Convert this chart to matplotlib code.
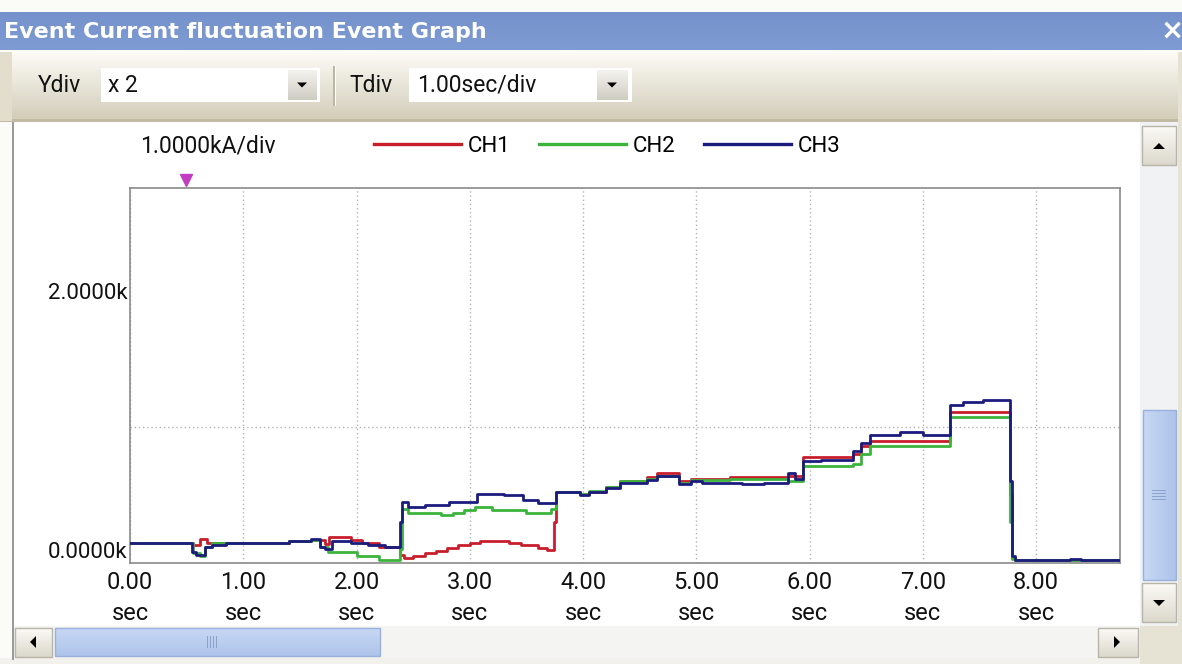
import matplotlib
matplotlib.use('Agg')  # no display
import matplotlib.pyplot as plt
import matplotlib.transforms as mtransforms
import numpy as np
from matplotlib.patches import Rectangle, Polygon
from matplotlib.lines import Line2D
from matplotlib.colors import LinearSegmentedColormap

# --- data: time in sec, current in kA (step samples) ---
t_ch1 = [0.00, 0.56, 0.62, 0.68, 1.40, 1.60, 1.72, 1.76, 1.95, 2.05, 2.20, 2.38, 2.42, 2.50, 2.60,
         2.70, 2.80, 2.90, 3.00, 3.09, 3.35, 3.45, 3.60, 3.68, 3.74, 3.76, 3.97, 4.05, 4.20, 4.33,
         4.56, 4.65, 4.85, 4.95, 5.30, 5.81, 5.94, 6.38, 6.45, 6.53, 7.24, 7.77, 7.79, 7.81, 8.74]
ch1 = [0.15, 0.13, 0.18, 0.15, 0.16, 0.17, 0.14, 0.19, 0.17, 0.15, 0.12, 0.06, 0.04, 0.05, 0.07,
       0.09, 0.11, 0.13, 0.15, 0.16, 0.15, 0.13, 0.11, 0.095, 0.30, 0.52, 0.51, 0.52, 0.56, 0.60,
       0.63, 0.66, 0.60, 0.62, 0.63, 0.64, 0.78, 0.80, 0.86, 0.90, 1.11, 0.50, 0.04, 0.02, 0.02]

t_ch2 = [0.00, 0.56, 0.62, 0.66, 0.72, 1.40, 1.60, 1.68, 1.75, 2.00, 2.20, 2.38, 2.40, 2.45, 2.75,
         2.85, 2.95, 3.05, 3.20, 3.50, 3.72, 3.76, 3.97, 4.05, 4.20, 4.33, 4.56, 4.65, 4.85, 4.95,
         5.30, 5.81, 5.94, 6.38, 6.45, 6.53, 7.24, 7.77, 7.79, 7.81, 8.74]
ch2 = [0.15, 0.07, 0.05, 0.12, 0.15, 0.16, 0.17, 0.12, 0.08, 0.05, 0.02, 0.10, 0.40, 0.37, 0.35,
       0.37, 0.39, 0.41, 0.39, 0.37, 0.40, 0.52, 0.51, 0.53, 0.56, 0.60, 0.62, 0.64, 0.59, 0.61,
       0.62, 0.60, 0.71, 0.73, 0.80, 0.86, 1.07, 0.30, 0.03, 0.02, 0.02]

t_ch3 = [0.00, 0.55, 0.58, 0.66, 0.72, 0.85, 1.40, 1.60, 1.68, 1.72, 1.78, 1.95, 2.10, 2.25, 2.38,
         2.40, 2.45, 2.60, 2.82, 3.06, 3.30, 3.47, 3.60, 3.76, 3.97, 4.05, 4.20, 4.33, 4.56, 4.65,
         4.85, 4.95, 5.05, 5.40, 5.60, 5.81, 5.87, 5.94, 6.10, 6.38, 6.45, 6.53, 6.80, 7.00, 7.24,
         7.35, 7.53, 7.77, 7.79, 7.81, 8.30, 8.40, 8.74]
ch3 = [0.15, 0.08, 0.06, 0.12, 0.13, 0.15, 0.16, 0.18, 0.12, 0.10, 0.16, 0.15, 0.13, 0.12, 0.30,
       0.45, 0.41, 0.43, 0.45, 0.51, 0.50, 0.46, 0.44, 0.52, 0.50, 0.52, 0.55, 0.59, 0.61, 0.64,
       0.58, 0.60, 0.59, 0.58, 0.59, 0.66, 0.62, 0.75, 0.76, 0.82, 0.88, 0.94, 0.96, 0.94, 1.16,
       1.18, 1.20, 0.60, 0.05, 0.02, 0.03, 0.02, 0.02]

channel_names = ['CH1', 'CH2', 'CH3']
channel_colors = ['#c81e2c', '#3cb43c', '#1c1c7e']

x_ticks = [0, 1, 2, 3, 4, 5, 6, 7, 8]
x_labels = ['%.2f\nsec' % s for s in x_ticks]
y_ticks = [0, 2]
y_labels = ['0.0000k', '2.0000k']
y_grid = [1, 2]
trigger_t = 0.49

W, H = 1182, 664
plt.rcParams['font.family'] = ['Roboto', 'DejaVu Sans']

fig = plt.figure(figsize=(W / 100, H / 100), dpi=100, facecolor='#fbfbf8')

# background axes in pixel coordinates for the window chrome
bg = fig.add_axes([0, 0, 1, 1])
bg.axis('off')


def box(x0, y0, x1, y1, fc, ec='none', lw=1.0, z=1):
    bg.add_patch(Rectangle((x0, y0), x1 - x0, y1 - y0, facecolor=fc, edgecolor=ec, linewidth=lw, zorder=z))


def vgrad(x0, y0, x1, y1, c_top, c_bot, z=1):
    cm = LinearSegmentedColormap.from_list('g', [c_top, c_bot])
    bg.imshow(np.linspace(0, 1, 64).reshape(-1, 1), extent=(x0, x1, y1, y0), cmap=cm,
              aspect='auto', zorder=z, interpolation='bilinear')


def hgrad(x0, y0, x1, y1, c_l, c_r, z=1):
    cm = LinearSegmentedColormap.from_list('g', [c_l, c_r])
    bg.imshow(np.linspace(0, 1, 64).reshape(1, -1), extent=(x0, x1, y1, y0), cmap=cm,
              aspect='auto', zorder=z, interpolation='bilinear')


def tri(cx, cy, size, direction, z=5):
    s = size
    if direction == 'up':
        pts = [(cx - s, cy + s * 0.5), (cx + s, cy + s * 0.5), (cx, cy - s * 0.5)]
    elif direction == 'down':
        pts = [(cx - s, cy - s * 0.5), (cx + s, cy - s * 0.5), (cx, cy + s * 0.5)]
    elif direction == 'left':
        pts = [(cx + s * 0.5, cy - s), (cx + s * 0.5, cy + s), (cx - s * 0.5, cy)]
    else:
        pts = [(cx - s * 0.5, cy - s), (cx - s * 0.5, cy + s), (cx + s * 0.5, cy)]
    bg.add_patch(Polygon(pts, closed=True, facecolor='black', edgecolor='none', zorder=z))


# title bar
vgrad(0, 12, W, 50, '#7692cc', '#7f9bd3')
bg.text(4, 32, 'Event Current fluctuation Event Graph', color='white', fontsize=16,
        fontweight='bold', va='center', ha='left', family='DejaVu Sans', zorder=3)
bg.text(1172, 31, '\u00d7', color='white', fontsize=20, fontweight='bold', va='center', ha='center',
        family='DejaVu Sans', zorder=3)

# toolbar
vgrad(0, 52, W, 121, '#fcfbf6', '#d2ccb8')
box(0, 119, W, 122, '#c2bba4')
box(0, 52, 12, 121, '#e2ddcc', z=2)

# Ydiv combobox
bg.text(38, 85, 'Ydiv', fontsize=16.5, va='center', ha='left', color='#111111', zorder=3)
box(101, 68, 320, 102, 'white', z=2)
vgrad(288, 70, 317, 100, '#f4f3ee', '#cfccc2', z=3)
tri(302, 85, 5, 'down')
bg.text(108, 85, 'x 2', fontsize=16.5, va='center', ha='left', color='#111111', zorder=3)

# separator
box(333, 66, 335, 106, '#bdb6a0', z=2)
box(335, 66, 336, 106, 'white', z=2)

# Tdiv combobox
bg.text(349, 85, 'Tdiv', fontsize=16.5, va='center', ha='left', color='#111111', zorder=3)
box(409, 68, 632, 102, 'white', z=2)
vgrad(597, 70, 628, 100, '#f4f3ee', '#cfccc2', z=3)
tri(612, 85, 5, 'down')
bg.text(417, 85, '1.00sec/div', fontsize=16.5, va='center', ha='left', color='#111111', zorder=3)

# chart panel
box(13, 122, 1140, 626, 'white', z=1)
box(12, 122, 14, 660, '#9a9a9a', z=2)

# vertical scrollbar
box(1140, 122, 1178, 626, '#f1f2f4', z=1)
vgrad(1142, 126, 1176, 165, '#fbfaf6', '#dcd8cc', z=2)
box(1142, 126, 1176, 165, 'none', ec='#b8b4a8', z=3)
tri(1159, 146, 6, 'up')
hgrad(1143, 410, 1176, 580, '#c8d8f4', '#aec4ea', z=2)
box(1143, 410, 1176, 580, 'none', ec='#98b0da', z=3)
for k in range(4):
    box(1152, 490 + k * 3, 1166, 491 + k * 3, '#8aa2cc', z=4)
vgrad(1142, 583, 1176, 622, '#fbfaf6', '#dcd8cc', z=2)
box(1142, 583, 1176, 622, 'none', ec='#b8b4a8', z=3)
tri(1159, 603, 6, 'down')

# horizontal scrollbar
box(14, 626, 1140, 658, '#f4f4f2', z=1)
vgrad(15, 628, 52, 657, '#fbfaf6', '#dcd8cc', z=2)
box(15, 628, 52, 657, 'none', ec='#b8b4a8', z=3)
tri(33, 642, 6, 'left')
vgrad(55, 628, 380, 656, '#c8d8f4', '#aec4ea', z=2)
box(55, 628, 380, 656, 'none', ec='#98b0da', z=3)
for k in range(4):
    box(207 + k * 3, 636, 208 + k * 3, 648, '#8aa2cc', z=4)
vgrad(1098, 628, 1138, 657, '#fbfaf6', '#dcd8cc', z=2)
box(1098, 628, 1138, 657, 'none', ec='#b8b4a8', z=3)
tri(1117, 642, 6, 'right')

# bottom right corner and bottom strip
box(1140, 626, W, H, '#e6e2d4', z=1)
box(0, 658, 1140, H, '#f2f1ec', z=1)
box(1178, 52, W, 626, '#e6e2d4', z=1)

bg.set_xlim(0, W)
bg.set_ylim(H, 0)

# --- the graph itself ---
ax = fig.add_axes([130 / W, 101 / H, 990 / W, 375 / H])
ax.set_facecolor('white')

for t, v, name, col in zip([t_ch1, t_ch2, t_ch3], [ch1, ch2, ch3], channel_names, channel_colors):
    ax.plot(t, v, drawstyle='steps-post', color=col, linewidth=2.0, label=name, zorder=3)

ax.set_xlim(0, 8.74)
ax.set_ylim(0, 2.757)

ax.set_xticks(x_ticks, x_labels)
ax.set_yticks(y_ticks, y_labels)
ax.set_yticks(y_grid, minor=True)
ax.tick_params(axis='both', which='both', length=0, labelcolor='#111111')
ax.tick_params(axis='x', pad=6, labelsize=17)
ax.tick_params(axis='y', pad=2, labelsize=16)
for lab in ax.get_xticklabels():
    lab.set_linespacing(1.45)
for lab in ax.get_yticklabels():
    if lab.get_text() == '0.0000k':
        lab.set_verticalalignment('bottom')

ax.xaxis.grid(True, which='major', color='#b4b4b4', linestyle=(0, (1, 2)), linewidth=1.0)
ax.yaxis.grid(True, which='minor', color='#b4b4b4', linestyle=(0, (1, 2)), linewidth=1.0)
ax.yaxis.grid(False, which='major')
for sp in ax.spines.values():
    sp.set_color('#8a8a8a')
    sp.set_linewidth(1.2)

# trigger marker above the plot
trig_tf = mtransforms.blended_transform_factory(ax.transData, ax.transAxes) + \
    mtransforms.ScaledTranslation(0, 8 / 100, fig.dpi_scale_trans)
ax.plot([trigger_t], [1.0], marker='v', markersize=9, color='#c23cc2', transform=trig_tf,
        clip_on=False, linestyle='none', zorder=5)

# scale text and legend row
fig.text(140 / W, 1 - 146 / H, '1.0000kA/div', fontsize=16.5, va='center', ha='left', color='#111111')
handles = [Line2D([], [], color=c, linewidth=2.4) for c in channel_colors]
fig.legend(handles, channel_names, loc='center left', bbox_to_anchor=(374 / W, 1 - 146 / H),
           ncol=3, frameon=False, fontsize=16, handlelength=3.9, handletextpad=0.3,
           columnspacing=1.3, borderpad=0, borderaxespad=0)

fig.savefig('out.png', dpi=100, facecolor=fig.get_facecolor())
